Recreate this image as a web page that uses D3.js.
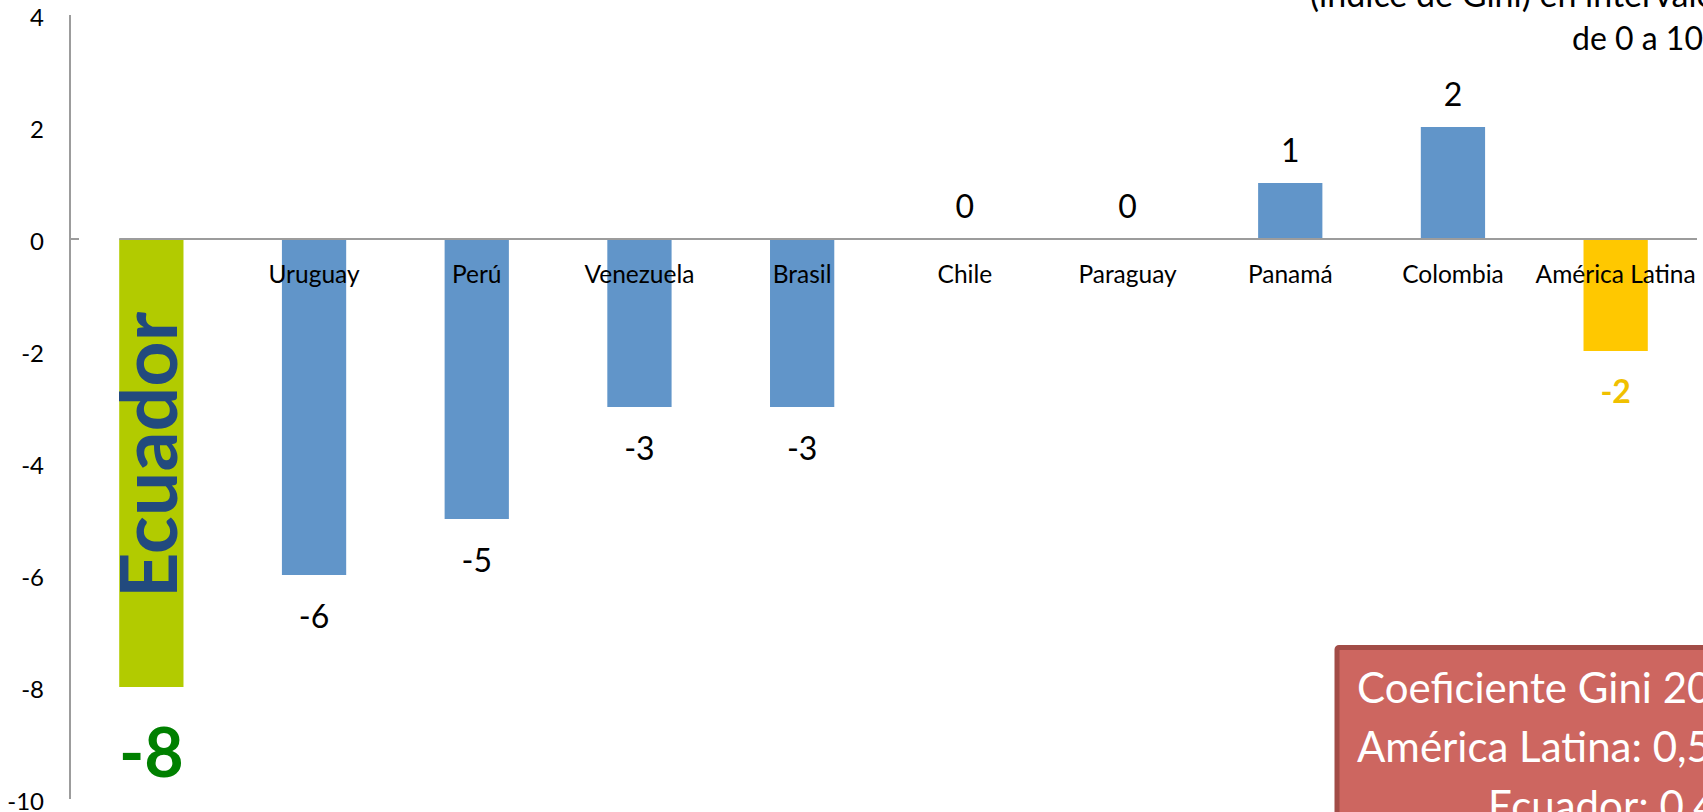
<!DOCTYPE html>
<html>
<head>
<meta charset="utf-8">
<script src="https://cdn.jsdelivr.net/npm/d3@7/dist/d3.min.js"></script>
<style>
  html, body { margin: 0; padding: 0; background: #fff; overflow: hidden; }
  svg { display: block; font-family: Lato, "Open Sans", sans-serif; }
</style>
</head>
<body>
<svg id="chart" width="1703" height="812"></svg>
<script>
const categories = ["Ecuador", "Uruguay", "Perú", "Venezuela", "Brasil", "Chile", "Paraguay", "Panamá", "Colombia", "América Latina"];
const values = [-8, -6, -5, -3, -3, 0, 0, 1, 2, -2];
const yTicks = [4, 2, 0, -2, -4, -6, -8, -10];
const titleLines = ["(índice de Gini) en intervalos", "de 0 a 100"];
const boxLines = ["Coeficiente Gini 2012", "América Latina: 0,50", "Ecuador: 0,46"];

const fmt = (v) => String(v); // hyphen-minus like the reference

const svg = d3.select("#chart");
const axisX = 70;

const x = d3.scaleBand().domain(categories).range([axisX, 1697]).padding(0);
const y = d3.scaleLinear().domain([-10, 4]).range([799, 15]);
const barW = x.bandwidth() * 0.395;

const colorFor = (c) => c === "Ecuador" ? "#b2cb00" : (c === "América Latina" ? "#ffc800" : "#6195c9");

// Y axis (line + labels)
const yAxis = d3.axisLeft(y).tickValues(yTicks).tickSize(0).tickPadding(0).tickFormat(fmt);
const gy = svg.append("g").attr("transform", `translate(${axisX},0)`).call(yAxis);
gy.select(".domain").remove();
gy.selectAll("text")
  .attr("x", 44 - axisX)
  .attr("dy", "0.45em")
  .attr("fill", "#000")
  .style("font-size", "24px")
  .style("font-family", "Lato, sans-serif");
svg.append("line")
  .attr("x1", axisX).attr("x2", axisX)
  .attr("y1", y(4)).attr("y2", y(-10))
  .attr("stroke", "#9c9c9c").attr("stroke-width", 2);
// tick at zero
svg.append("line")
  .attr("x1", axisX).attr("x2", axisX + 9)
  .attr("y1", y(0)).attr("y2", y(0))
  .attr("stroke", "#9c9c9c").attr("stroke-width", 2);

// Bars
const data = categories.map((c, i) => ({ c, v: values[i] }));
svg.append("g").selectAll("rect").data(data.filter(d => d.v !== 0)).join("rect")
  .attr("x", d => x(d.c) + (x.bandwidth() - barW) / 2)
  .attr("width", barW)
  .attr("y", d => y(Math.max(0, d.v)))
  .attr("height", d => Math.abs(y(d.v) - y(0)))
  .attr("fill", d => colorFor(d.c));

// Zero baseline (category axis)
svg.append("line")
  .attr("x1", x("Ecuador") + (x.bandwidth() - barW) / 2).attr("x2", 1697)
  .attr("y1", y(0)).attr("y2", y(0))
  .attr("stroke", "#9c9c9c").attr("stroke-width", 2);

// Category labels (except Ecuador)
svg.append("g").selectAll("text").data(data.filter(d => d.c !== "Ecuador")).join("text")
  .attr("x", d => x(d.c) + x.bandwidth() / 2)
  .attr("y", y(0) + 44)
  .attr("text-anchor", "middle")
  .attr("fill", "#000")
  .style("font-size", "24.5px")
  .text(d => d.c);

// Value labels
const normal = data.filter(d => d.c !== "Ecuador" && d.c !== "América Latina");
svg.append("g").selectAll("text").data(normal).join("text")
  .attr("x", d => x(d.c) + x.bandwidth() / 2)
  .attr("y", d => d.v >= 0 ? y(d.v) - 21 : y(d.v) + 53)
  .attr("text-anchor", "middle")
  .attr("fill", "#000")
  .style("font-size", "32px")
  .text(d => fmt(d.v));

// América Latina label
const al = data.find(d => d.c === "América Latina");
svg.append("text")
  .attr("x", x(al.c) + x.bandwidth() / 2)
  .attr("y", y(al.v) + 52)
  .attr("text-anchor", "middle")
  .attr("fill", "#f0c000")
  .style("font-size", "32px").style("font-weight", "bold")
  .text(fmt(al.v));

// Ecuador label
const ec = data.find(d => d.c === "Ecuador");
svg.append("text")
  .attr("x", x(ec.c) + x.bandwidth() / 2)
  .attr("y", y(ec.v) + 90)
  .attr("text-anchor", "middle")
  .attr("fill", "#008000")
  .style("font-size", "68px").style("font-weight", "bold")
  .text(fmt(ec.v));

// Vertical "Ecuador" text inside the bar
svg.append("text")
  .attr("transform", `translate(${x(ec.c) + x.bandwidth() / 2 + 26},${y(ec.v) - 89}) rotate(-90)`)
  .attr("text-anchor", "start")
  .attr("fill", "#224a7e")
  .style("font-size", "79px").style("font-weight", "bold")
  .text(ec.c);

// Title (cut off at the top-right, as in the reference)
svg.append("text").attr("x", 1310).attr("y", 7)
  .attr("fill", "#000").style("font-size", "34px").text(titleLines[0]);
svg.append("text").attr("x", 1572).attr("y", 50)
  .attr("fill", "#000").style("font-size", "32px").text(titleLines[1]);

// Red note box (cut off at bottom-right, as in the reference)
svg.append("rect")
  .attr("x", 1337).attr("y", 647.5)
  .attr("width", 500).attr("height", 300)
  .attr("rx", 2)
  .attr("fill", "#cd6660")
  .attr("stroke", "#a24c47").attr("stroke-width", 5);
const bx = [1357, 1357, 1488];
const by = [703, 762, 821];
svg.append("g").selectAll("text").data(boxLines).join("text")
  .attr("x", (d, i) => bx[i]).attr("y", (d, i) => by[i])
  .attr("fill", "#fff")
  .style("font-size", "42px")
  .text(d => d);
</script>
</body>
</html>
